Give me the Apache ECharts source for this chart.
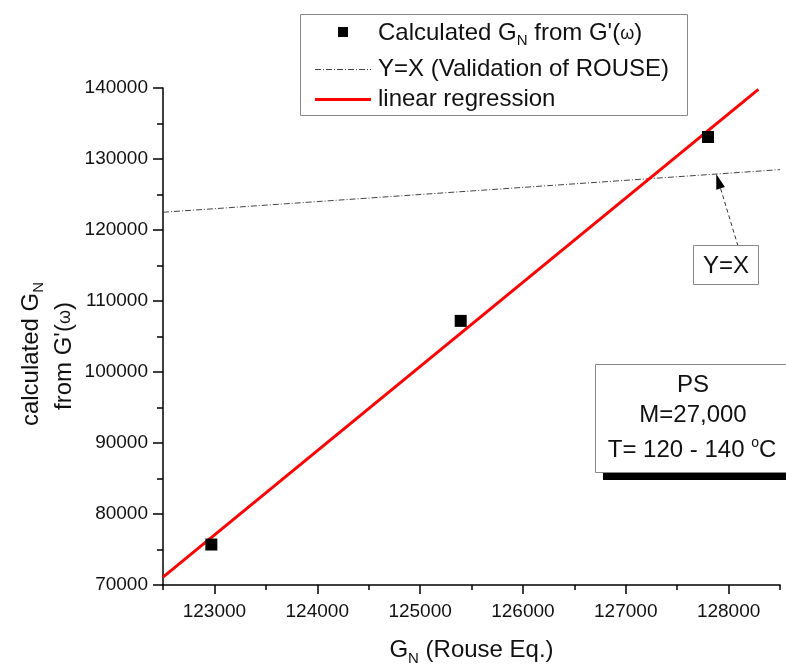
<!DOCTYPE html>
<html><head><meta charset="utf-8">
<script src="https://cdn.jsdelivr.net/npm/echarts@6/dist/echarts.min.js"></script>
<style>html,body{margin:0;padding:0;background:#fff}#c{width:786px;height:664px}</style>
</head><body><div id="c"></div>
<script>
// Data
const rouseGN = [122970, 125395, 127800];          // x: G_N (Rouse Eq.)
const calcGN  = [75700, 107200, 133100];           // y: calculated G_N from G'(ω)
const regX    = [122500, 128290];                  // linear regression ends
const regY    = [71100, 139800];
const yxX     = [122500, 128500];                  // Y = X line
const xTicks  = [123000, 124000, 125000, 126000, 127000, 128000];
const yTicks  = [70000, 80000, 90000, 100000, 110000, 120000, 130000, 140000];

const FONT = '"Liberation Sans", Arial, sans-serif';
const chart = echarts.init(document.getElementById('c'), null, {renderer: 'canvas'});

const pts = rouseGN.map((x, i) => [x, calcGN[i]]);
const reg = regX.map((x, i) => [x, regY[i]]);
const yx  = yxX.map(x => [x, x]);

const lbl = {color: '#111', fontSize: 19, fontFamily: FONT, formatter: v => String(v)};
const blk = {color: '#000', width: 1.5};

chart.setOption({
  animation: false,
  backgroundColor: '#fff',
  grid: {left: 163, right: 6, top: 88, bottom: 79, containLabel: false, outerBoundsMode: 'none'},
  xAxis: [
    { // minor ticks + axis line
      type: 'value', min: 122500, max: 128500, interval: 500, position: 'bottom',
      axisLine: {show: true, lineStyle: blk},
      axisTick: {show: true, length: 5, lineStyle: blk},
      axisLabel: {show: false}, splitLine: {show: false},
      name: '{a|G}{s|N}{a| (Rouse Eq.)}',
      nameLocation: 'middle', nameGap: 50,
      nameTextStyle: {
        rich: {
          a: {fontSize: 24, fontFamily: FONT, color: '#111'},
          s: {fontSize: 15, fontFamily: FONT, color: '#111', padding: [16, 0, 0, 0]}
        }
      }
    },
    { // major ticks + labels
      type: 'value', min: 122500, max: 128500, interval: 500, position: 'bottom',
      axisLine: {show: false},
      axisTick: {show: true, length: 9, lineStyle: blk, customValues: xTicks},
      axisLabel: Object.assign({}, lbl, {margin: 17, customValues: xTicks}),
      splitLine: {show: false}
    }
  ],
  yAxis: [
    {
      type: 'value', min: 70000, max: 140000, interval: 5000, position: 'left',
      axisLine: {show: true, lineStyle: blk},
      axisTick: {show: true, length: 6, lineStyle: blk},
      axisLabel: {show: false}, splitLine: {show: false}
    },
    {
      type: 'value', min: 70000, max: 140000, interval: 5000, position: 'left',
      axisLine: {show: false},
      axisTick: {show: true, length: 10, lineStyle: blk, customValues: yTicks},
      axisLabel: Object.assign({}, lbl, {margin: 15, customValues: yTicks}),
      splitLine: {show: false}
    }
  ],
  series: [
    {
      name: 'Y=X', type: 'line', data: yx, symbol: 'none', silent: true,
      lineStyle: {color: '#444', width: 1, type: [6, 2, 1, 2]}, z: 2
    },
    {
      name: 'linear regression', type: 'line', data: reg, symbol: 'none', silent: true,
      lineStyle: {color: '#ff0000', width: 3}, z: 3
    },
    {
      name: 'Calculated', type: 'scatter', data: pts, symbol: 'rect', symbolSize: 12,
      itemStyle: {color: '#000', opacity: 1}, z: 4
    }
  ]
});

// Annotations
const tip = chart.convertToPixel({xAxisIndex: 0, yAxisIndex: 0}, [127880, 127880]);
const aStart = [738, 246];
const ang = Math.atan2(tip[1] - aStart[1], tip[0] - aStart[0]);
const ah = 15, aw = 4.5;
const bx = tip[0] - ah * Math.cos(ang), by = tip[1] - ah * Math.sin(ang);
const nx = -Math.sin(ang), ny = Math.cos(ang);

const txt = {fontSize: 24, fontFamily: FONT, fill: '#111'};
const richBase = {
  a: {fontSize: 24, fontFamily: FONT, fill: '#111'},
  s: {fontSize: 15, fontFamily: FONT, fill: '#111', padding: [16, 0, 0, 0]},
  w: {fontSize: 18, fontFamily: FONT, fill: '#111', padding: [3, 0, 0, 0]}
};
chart.setOption({
  graphic: [
    // Legend
    {type: 'rect', shape: {x: 300.5, y: 14.5, width: 387, height: 101},
     style: {fill: '#fff', stroke: '#888', lineWidth: 1}, z: 10},
    {type: 'rect', shape: {x: 338, y: 27, width: 10, height: 10}, style: {fill: '#000'}, z: 11},
    {type: 'text', x: 378, y: 33, z: 11,
     style: {text: '{a|Calculated G}{s|N}{a| from G\'(}{w|ω}{a|)}', verticalAlign: 'middle', rich: richBase}},
    {type: 'line', shape: {x1: 315, y1: 69.5, x2: 371, y2: 69.5}, z: 11,
     style: {stroke: '#444', lineWidth: 1, lineDash: [6, 2, 1, 2]}},
    {type: 'text', x: 378, y: 69, z: 11,
     style: Object.assign({}, txt, {text: 'Y=X (Validation of ROUSE)', verticalAlign: 'middle'})},
    {type: 'line', shape: {x1: 315, y1: 99.5, x2: 371, y2: 99.5}, z: 11,
     style: {stroke: '#ff0000', lineWidth: 3}},
    {type: 'text', x: 378, y: 99, z: 11,
     style: Object.assign({}, txt, {text: 'linear regression', verticalAlign: 'middle'})},

    // Y axis title (rotated, two lines)
    {type: 'text', x: 31, y: 354, rotation: Math.PI / 2, z: 11,
     style: {text: '{a|calculated G}{s|N}', align: 'center', verticalAlign: 'middle', rich: richBase}},
    {type: 'text', x: 64, y: 356, rotation: Math.PI / 2, z: 11,
     style: {text: '{a|from G\'(}{w|ω}{a|)}', align: 'center', verticalAlign: 'middle', rich: richBase}},

    // Y=X label box with arrow
    {type: 'line', shape: {x1: aStart[0], y1: aStart[1], x2: bx, y2: by}, z: 11,
     style: {stroke: '#333', lineWidth: 1, lineDash: [4, 3]}},
    {type: 'polygon', z: 11,
     shape: {points: [[tip[0], tip[1]], [bx + nx * aw, by + ny * aw], [bx - nx * aw, by - ny * aw]]},
     style: {fill: '#000'}},
    {type: 'rect', shape: {x: 693.5, y: 245.5, width: 65, height: 39},
     style: {fill: '#fff', stroke: '#888', lineWidth: 1}, z: 11},
    {type: 'text', x: 726, y: 266, z: 12,
     style: Object.assign({}, txt, {text: 'Y=X', align: 'center', verticalAlign: 'middle'})},

    // PS info box with shadow
    {type: 'rect', shape: {x: 603, y: 473, width: 190, height: 7}, style: {fill: '#000'}, z: 10},
    {type: 'rect', shape: {x: 595.5, y: 364.5, width: 200, height: 108},
     style: {fill: '#fff', stroke: '#888', lineWidth: 1}, z: 11},
    {type: 'text', x: 693, y: 385, z: 12,
     style: Object.assign({}, txt, {text: 'PS', align: 'center', verticalAlign: 'middle'})},
    {type: 'text', x: 693, y: 415, z: 12,
     style: Object.assign({}, txt, {text: 'M=27,000', align: 'center', verticalAlign: 'middle'})},
    {type: 'text', x: 692, y: 450, z: 12,
     style: {text: '{a|T= 120 - 140 }{o|o}{a|C}', align: 'center', verticalAlign: 'middle',
       rich: {a: {fontSize: 24, fontFamily: FONT, fill: '#111'},
              o: {fontSize: 14, fontFamily: FONT, fill: '#111', padding: [0, 0, 14, 0]}}}}
  ]
});
</script>
</body></html>
